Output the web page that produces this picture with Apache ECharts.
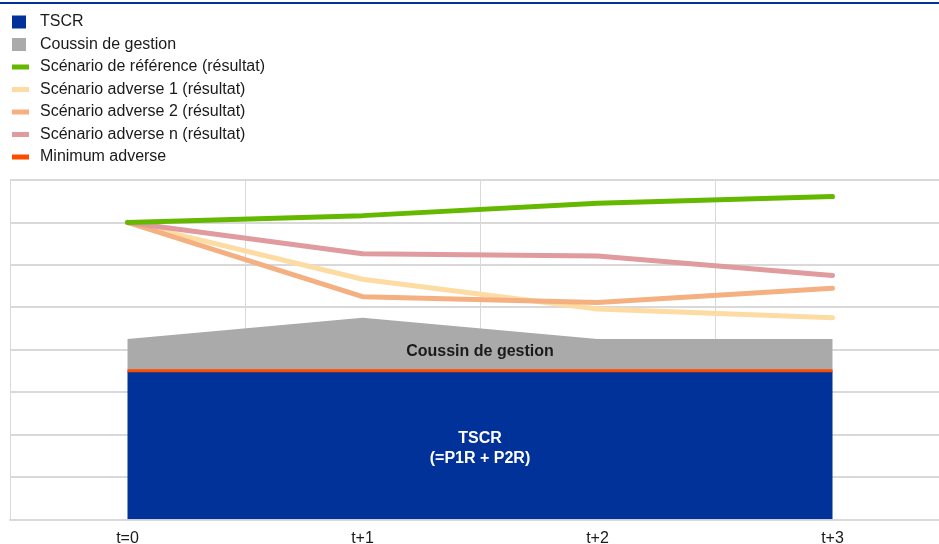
<!DOCTYPE html>
<html>
<head>
<meta charset="utf-8">
<script src="https://cdn.jsdelivr.net/npm/echarts@6/dist/echarts.min.js"></script>
<style>
  html, body { margin: 0; padding: 0; background: #fff; }
  #main { width: 939px; height: 544px; }
</style>
</head>
<body>
<div id="main"></div>
<script>
var periods = ['t=0', 't+1', 't+2', 't+3']
// stacked areas
var tscr = [3.5, 3.5, 3.5, 3.5]
var coussin = [0.75, 1.25, 0.75, 0.75]
// scenario lines
var reference = [7.0, 7.16, 7.45, 7.61]
var adverse1 = [7.0, 5.66, 4.96, 4.75]
var adverse2 = [7.0, 5.25, 5.11, 5.45]
var adverseN = [7.0, 6.26, 6.21, 5.75]
var minimumAdverse = [3.5, 3.5, 3.5, 3.5]

var FONT = 'Liberation Sans, Arial, sans-serif'
var chart = echarts.init(document.getElementById('main'))

function lineSeries(name, data, color, z) {
  return {
    name: name,
    type: 'line',
    data: data,
    symbol: 'none',
    z: z,
    color: color,
    lineStyle: { width: 5, color: color, cap: 'round', join: 'round' }
  }
}

var option = {
  animation: false,
  textStyle: { fontFamily: FONT },
  legend: [{
    orient: 'vertical',
    left: 7,
    top: 9,
    itemWidth: 14,
    itemHeight: 13,
    itemGap: 6.5,
    icon: 'rect',
    textStyle: { fontSize: 16, color: '#1a1a1a', fontFamily: FONT, padding: [0, 0, 0, 9] },
    data: ['TSCR', 'Coussin de gestion']
  }, {
    orient: 'vertical',
    left: 7,
    top: 54,
    itemWidth: 17,
    itemHeight: 5,
    itemGap: 6.5,
    icon: 'rect',
    textStyle: { fontSize: 16, color: '#1a1a1a', fontFamily: FONT, padding: [0, 0, 0, 6] },
    data: ['Scénario de référence (résultat)', 'Scénario adverse 1 (résultat)',
      'Scénario adverse 2 (résultat)', 'Scénario adverse n (résultat)', 'Minimum adverse']
  }],
  grid: { left: 10, top: 180, width: 940, height: 339.3, outerBoundsMode: 'none' },
  xAxis: {
    type: 'category',
    data: periods,
    boundaryGap: true,
    axisLine: { lineStyle: { color: '#d9d9d9', width: 2 } },
    axisTick: { show: false },
    axisLabel: { fontSize: 16, color: '#1a1a1a', margin: 11, fontFamily: FONT },
    splitLine: { show: true, lineStyle: { color: '#d9d9d9', width: 1 } }
  },
  yAxis: {
    type: 'value',
    min: 0,
    max: 8,
    interval: 1,
    axisLabel: { show: false },
    axisLine: { show: false },
    axisTick: { show: false },
    splitLine: { lineStyle: { color: '#d9d9d9', width: 2 } }
  },
  series: [
    {
      name: 'TSCR',
      type: 'line',
      stack: 'capital',
      data: tscr,
      symbol: 'none',
      color: '#003299',
      lineStyle: { width: 0 },
      areaStyle: { color: '#003299', opacity: 1 },
      z: 2
    },
    {
      name: 'Coussin de gestion',
      type: 'line',
      stack: 'capital',
      data: coussin,
      symbol: 'none',
      color: '#aaaaaa',
      lineStyle: { width: 0 },
      areaStyle: { color: '#aaaaaa', opacity: 1 },
      z: 2
    },
    lineSeries('Scénario de référence (résultat)', reference, '#65b800', 6),
    lineSeries('Scénario adverse 1 (résultat)', adverse1, '#fddca4', 3),
    lineSeries('Scénario adverse 2 (résultat)', adverse2, '#f4b081', 4),
    lineSeries('Scénario adverse n (résultat)', adverseN, '#e09b9e', 5),
    {
      name: 'Minimum adverse',
      type: 'line',
      data: minimumAdverse,
      symbol: 'none',
      color: '#ff4b00',
      lineStyle: { width: 3, color: '#ff4b00' },
      z: 7
    }
  ],
  graphic: [
    { type: 'rect', left: 0, top: 2, shape: { width: 939, height: 2 }, style: { fill: '#003299' } },
    {
      type: 'text', x: 480, y: 344, z: 100,
      style: { text: 'Coussin de gestion', font: 'bold 16px ' + FONT, fill: '#1a1a1a', align: 'center' }
    },
    {
      type: 'text', x: 480, y: 428.5, z: 100,
      style: { text: 'TSCR\n(=P1R + P2R)', font: 'bold 16px ' + FONT, fill: '#ffffff', align: 'center', lineHeight: 20 }
    }
  ]
}
chart.setOption(option)
</script>
</body>
</html>
